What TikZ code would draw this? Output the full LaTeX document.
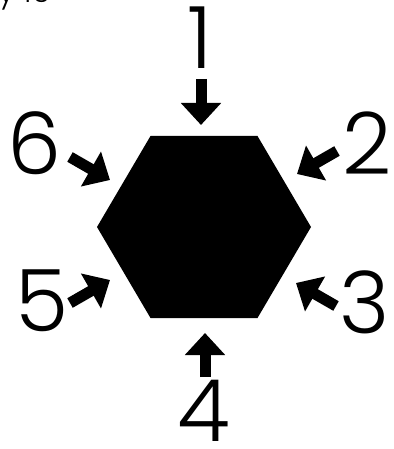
\documentclass[tikz,border=0pt]{standalone}
\usepackage{fontspec}
\IfFontExistsTF{Poppins Light}{\setmainfont{Poppins Light}}{%
  \IfFontExistsTF{Lato Light}{\setmainfont{Lato Light}}{%
    \IfFontExistsTF{Open Sans Light}{\setmainfont{Open Sans Light}}{\setmainfont{Poppins}}}}
\usetikzlibrary{arrows.meta}
\tikzset{
  blockarrow/.style={line width=11pt, -{Triangle[width=39pt,length=22pt]}},
  digit/.style={inner sep=0pt, font=\fontsize{86}{86}\selectfont},
}
\begin{document}
\begin{tikzpicture}[x=1pt,y=-1pt]
\useasboundingbox (0,0) rectangle (393,449);
% partially cut-off text at top left
\node[inner sep=0pt, anchor=base west, font=\fontsize{30}{30}\selectfont] (top) at (-2,3) {y 16};
% hexagon
\fill[black] (150.5,136) coordinate (h1) -- (257.5,136) coordinate (h2) -- (311,227) coordinate (h3)
  -- (257.5,318) coordinate (h4) -- (150.5,318) coordinate (h5) -- (97,227) coordinate (h6) -- cycle;
% labels
\node[digit] (l1) at (200,38) {1};
\node[digit] (l2) at (367,143) {2};
\node[digit] (l3) at (365,302) {3};
\node[digit] (l4) at (204,411) {4};
\node[digit] (l5) at (42,301) {5};
\node[digit] (l6) at (35,143) {6};
% arrow coordinates
\coordinate (a1s) at (201,79);   \coordinate (a1e) at (201,125);
\coordinate (a2s) at (337,151);  \coordinate (a2e) at (297,174);
\coordinate (a3s) at (336,306);  \coordinate (a3e) at (296,283);
\coordinate (a4s) at (205,377);  \coordinate (a4e) at (205,333);
\coordinate (a5s) at (70,303);   \coordinate (a5e) at (110,280);
\coordinate (a6s) at (70,157);   \coordinate (a6e) at (110,180);
\draw[blockarrow] (a1s) -- (a1e);
\draw[blockarrow] (a2s) -- (a2e);
\draw[blockarrow] (a3s) -- (a3e);
\draw[blockarrow] (a4s) -- (a4e);
\draw[blockarrow] (a5s) -- (a5e);
\draw[blockarrow] (a6s) -- (a6e);
\end{tikzpicture}
\end{document}
